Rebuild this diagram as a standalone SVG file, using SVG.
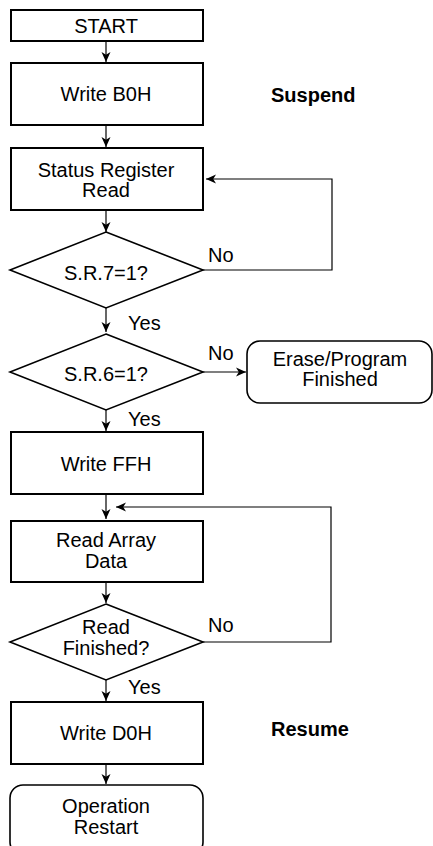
<svg xmlns="http://www.w3.org/2000/svg" width="433" height="846" viewBox="0 0 433 846">
<style>
.box{fill:#fff;stroke:#000;stroke-width:2}
.dia{fill:#fff;stroke:#000;stroke-width:1.6}
.rnd{fill:#fff;stroke:#000;stroke-width:1.6}
.t{font-family:"Liberation Sans",Arial,sans-serif;font-size:20px;fill:#000;text-anchor:middle}
.l{font-family:"Liberation Sans",Arial,sans-serif;font-size:20px;fill:#000}
.b{font-family:"Liberation Sans",Arial,sans-serif;font-size:20px;font-weight:bold;fill:#000}
.c{fill:none;stroke:#000;stroke-width:1.2}
</style>
<defs>
<marker id="ah" markerWidth="12" markerHeight="12" refX="10" refY="6" orient="auto" markerUnits="userSpaceOnUse">
<path d="M0,1.5 L10,6 L0,10.5 L2.8,6 Z" fill="#000"/>
</marker>
</defs>
<rect width="433" height="846" fill="#fff"/>
<g id="connectors">
<line class="c" x1="106" y1="41" x2="106" y2="62" marker-end="url(#ah)"/>
<line class="c" x1="106" y1="125" x2="106" y2="147" marker-end="url(#ah)"/>
<line class="c" x1="106" y1="210" x2="106" y2="232" marker-end="url(#ah)"/>
<polyline class="c" points="203,270 332,270 332,179 206,179" marker-end="url(#ah)"/>
<line class="c" x1="106" y1="308" x2="106" y2="332" marker-end="url(#ah)"/>
<line class="c" x1="203" y1="372" x2="246" y2="372" marker-end="url(#ah)"/>
<line class="c" x1="106" y1="410" x2="106" y2="431" marker-end="url(#ah)"/>
<line class="c" x1="106" y1="494" x2="106" y2="519" marker-end="url(#ah)"/>
<polyline class="c" points="203,642 331,642 331,507 116,507" marker-end="url(#ah)"/>
<line class="c" x1="106" y1="582" x2="106" y2="603" marker-end="url(#ah)"/>
<line class="c" x1="106" y1="680" x2="106" y2="701" marker-end="url(#ah)"/>
<line class="c" x1="106" y1="764" x2="106" y2="784" marker-end="url(#ah)"/>
<text class="l" x="208" y="262">No</text>
<text class="l" x="128" y="330">Yes</text>
<text class="l" x="208" y="360">No</text>
<text class="l" x="128" y="426">Yes</text>
<text class="l" x="208" y="632">No</text>
<text class="l" x="128" y="694">Yes</text>
</g>
<g id="start">
<rect class="box" x="11" y="10" width="192" height="31"/>
<text class="t" x="106" y="33">START</text>
</g>
<g id="writeB0H">
<rect class="box" x="11" y="63" width="192" height="62"/>
<text class="t" x="106" y="101">Write B0H</text>
</g>
<g id="suspend">
<text class="b" x="271" y="102">Suspend</text>
</g>
<g id="statusRead">
<rect class="box" x="11" y="148" width="192" height="62"/>
<text class="t" x="106" y="177">Status Register</text>
<text class="t" x="106" y="197">Read</text>
</g>
<g id="sr7">
<polygon class="dia" points="106,232 203,270 106,308 10,270"/>
<text class="t" x="106" y="280">S.R.7=1?</text>
</g>
<g id="sr6">
<polygon class="dia" points="106,334 203,372 106,410 10,372"/>
<text class="t" x="106" y="381">S.R.6=1?</text>
</g>
<g id="eraseFinished">
<rect class="rnd" x="247" y="341" width="185" height="62" rx="13"/>
<text class="t" x="340" y="366">Erase/Program</text>
<text class="t" x="340" y="386">Finished</text>
</g>
<g id="writeFFH">
<rect class="box" x="11" y="432" width="192" height="62"/>
<text class="t" x="106" y="471">Write FFH</text>
</g>
<g id="readArray">
<rect class="box" x="11" y="521" width="192" height="61"/>
<text class="t" x="106" y="547">Read Array</text>
<text class="t" x="106" y="568">Data</text>
</g>
<g id="readFinished">
<polygon class="dia" points="106,604 203,642 106,680 10,642"/>
<text class="t" x="106" y="634">Read</text>
<text class="t" x="106" y="655">Finished?</text>
</g>
<g id="writeD0H">
<rect class="box" x="11" y="702" width="192" height="62"/>
<text class="t" x="106" y="740">Write D0H</text>
</g>
<g id="resume">
<text class="b" x="271" y="736">Resume</text>
</g>
<g id="opRestart">
<rect class="rnd" x="10" y="785" width="193" height="70" rx="13"/>
<text class="t" x="106" y="813">Operation</text>
<text class="t" x="106" y="834">Restart</text>
</g>
</svg>
